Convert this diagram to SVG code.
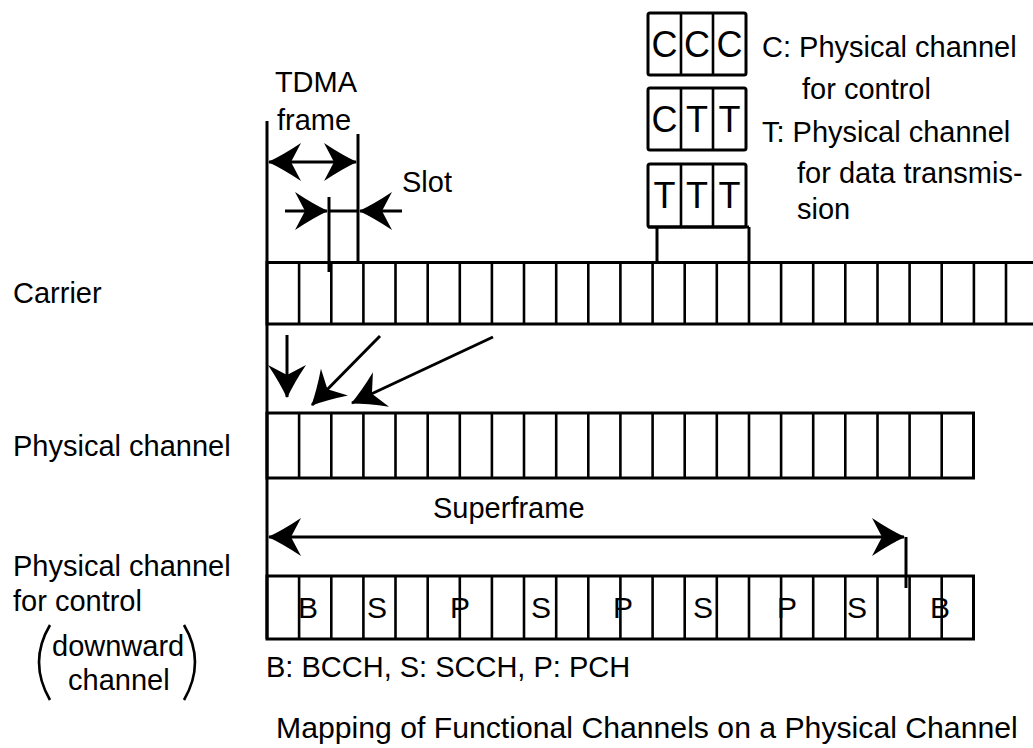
<svg xmlns="http://www.w3.org/2000/svg" width="1033" height="748" viewBox="0 0 1033 748">
<defs>
<style>
text{font-family:"Liberation Sans",Arial,sans-serif;fill:#000;font-size:29px}
.big{font-size:36px;text-anchor:middle}
.lt{font-size:30px;text-anchor:middle}
.ln{fill:none;stroke:#000;stroke-width:3}
.dv{fill:none;stroke:#000;stroke-width:2.6}
.ar{fill:none;stroke:#000;stroke-width:3}
</style>
<marker id="ah" markerUnits="userSpaceOnUse" markerWidth="40" markerHeight="42" viewBox="-34 -21 36 42" refX="0" refY="0" orient="auto-start-reverse">
<path d="M1,0 Q-14,-7 -32,-19 L-22,0 L-32,19 Q-14,7 1,0 Z" fill="#000"/>
</marker>
</defs>
<rect width="1033" height="748" fill="#fff"/>

<g id="labels">
<text x="13" y="303">Carrier</text>
<text x="13" y="456">Physical channel</text>
<text x="13" y="576">Physical channel</text>
<text x="13" y="611">for control</text>
<text x="52" y="656">downward</text>
<text x="68" y="690">channel</text>
<path class="dv" d="M50,625 Q28,662 50,700 M184,625 Q206,662 184,700"/>
</g>

<g id="tdma-frame">
<text x="316" y="92" text-anchor="middle">TDMA</text>
<text x="314" y="130" text-anchor="middle">frame</text>
<text x="402" y="192">Slot</text>
</g>

<g id="carrier">
<path class="ln" d="M1040,262.5 H267 V324 H1040"/>
<path class="dv" d="M299.1,262.5V324M331.3,262.5V324M363.4,262.5V324M395.5,262.5V324M427.7,262.5V324M459.8,262.5V324M491.9,262.5V324M524,262.5V324M556.2,262.5V324M588.3,262.5V324M620.4,262.5V324M652.6,262.5V324M684.7,262.5V324M716.8,262.5V324M749,262.5V324M781.1,262.5V324M813.2,262.5V324M845.3,262.5V324M877.5,262.5V324M909.6,262.5V324M941.7,262.5V324M973.9,262.5V324M1006,262.5V324"/>
</g>

<g id="physical-channel">
<rect class="ln" x="267" y="413" width="706.5" height="65"/>
<path class="dv" d="M299.1,413V478M331.3,413V478M363.4,413V478M395.5,413V478M427.7,413V478M459.8,413V478M491.9,413V478M524,413V478M556.2,413V478M588.3,413V478M620.4,413V478M652.6,413V478M684.7,413V478M716.8,413V478M749,413V478M781.1,413V478M813.2,413V478M845.3,413V478M877.5,413V478M909.6,413V478M941.7,413V478"/>
</g>

<g id="control-channel">
<rect class="ln" x="267" y="576" width="706.5" height="63"/>
<path class="dv" d="M299.1,576V639M331.3,576V639M363.4,576V639M395.5,576V639M427.7,576V639M459.8,576V639M491.9,576V639M524,576V639M556.2,576V639M588.3,576V639M620.4,576V639M652.6,576V639M684.7,576V639M716.8,576V639M749,576V639M781.1,576V639M813.2,576V639M845.3,576V639M877.5,576V639M909.6,576V639M941.7,576V639"/>
<text class="lt" x="308" y="618">B</text>
<text class="lt" x="377" y="618">S</text>
<text class="lt" x="460" y="618">P</text>
<text class="lt" x="541" y="618">S</text>
<text class="lt" x="623" y="618">P</text>
<text class="lt" x="703" y="618">S</text>
<text class="lt" x="787" y="618">P</text>
<text class="lt" x="857" y="618">S</text>
<text class="lt" x="940" y="618">B</text>
<text x="266" y="677">B: BCCH, S: SCCH, P: PCH</text>
<text x="276" y="738" style="font-size:30.2px">Mapping of Functional Channels on a Physical Channel</text>
</g>

<g id="box-ccc">
<rect class="ln" x="648" y="13" width="98" height="62" rx="2"/>
<path class="dv" d="M681,13V75M713,13V75"/>
<text class="big" x="664.5" y="57">C</text>
<text class="big" x="697" y="57">C</text>
<text class="big" x="729.5" y="57">C</text>
</g>
<g id="box-ctt">
<rect class="ln" x="648" y="88" width="98" height="62" rx="2"/>
<path class="dv" d="M681,88V150M713,88V150"/>
<text class="big" x="664.5" y="132">C</text>
<text class="big" x="697" y="132">T</text>
<text class="big" x="729.5" y="132">T</text>
</g>
<g id="box-ttt">
<rect class="ln" x="648" y="164" width="98" height="63" rx="2"/>
<path class="dv" d="M681,164V227M713,164V227"/>
<text class="big" x="664.5" y="208">T</text>
<text class="big" x="697" y="208">T</text>
<text class="big" x="729.5" y="208">T</text>
</g>

<g id="legend">
<text x="762" y="57">C: Physical channel</text>
<text x="802" y="99">for control</text>
<text x="762" y="142">T: Physical channel</text>
<text x="797" y="183">for data transmis-</text>
<text x="797" y="219">sion</text>
</g>

<g id="superframe">
<text x="433" y="518">Superframe</text>
</g>

<g id="connectors">
<path class="ln" d="M267,121V639"/>
<path class="ln" d="M358,134V262.5"/>
<path class="ln" d="M329,197V272"/>
<path class="ln" d="M648,227H749M657,227V262.5M749,227V262.5"/>
<path class="ln" d="M906,537V588"/>
<line class="ar" x1="269" y1="162" x2="356" y2="162" marker-start="url(#ah)" marker-end="url(#ah)"/>
<line class="ar" x1="285" y1="211" x2="327" y2="211" marker-end="url(#ah)"/>
<line class="ar" x1="402" y1="211" x2="360" y2="211" marker-end="url(#ah)"/>
<line class="ar" x1="329" y1="211" x2="358" y2="211"/>
<line class="ar" x1="287" y1="335" x2="287" y2="397" marker-end="url(#ah)"/>
<line class="ar" x1="380" y1="336" x2="312" y2="405" marker-end="url(#ah)"/>
<line class="ar" x1="493" y1="337" x2="352" y2="403" marker-end="url(#ah)"/>
<line class="ar" x1="269" y1="537" x2="904" y2="537" marker-start="url(#ah)" marker-end="url(#ah)"/>
</g>
</svg>
